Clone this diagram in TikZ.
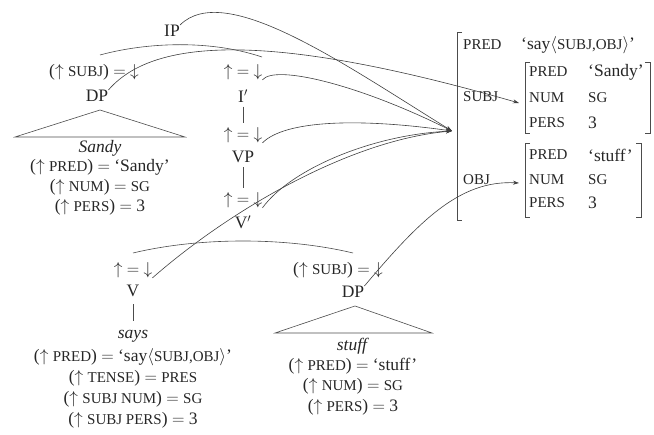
\documentclass[tikz,border=0pt]{standalone}
\usepackage{fontspec}
\setmainfont{Liberation Serif}
\usetikzlibrary{arrows.meta}
\newcommand\fsc[1]{{\fontsize{15}{16}\selectfont #1}}
\newcommand\eqann{$\uparrow$ $=$ $\downarrow$}
\begin{document}
\begin{tikzpicture}[x=1pt,y=-1pt,
  every node/.style={font=\fontsize{17.5}{20}\selectfont, inner sep=0pt, text=black!85},
  fl/.style={anchor=west},
  tree/.style={draw=black!70, line width=0.6pt},
  vline/.style={draw=black!70, line width=0.6pt, shorten <=4pt, shorten >=4pt},
  phi/.style={draw=black!75, line width=0.6pt, -{Stealth[length=6pt,width=4pt]}},
  brk/.style={draw=black!70, line width=0.6pt}]
\useasboundingbox (0,0) rectangle (654,435);
% ---------- c-structure ----------
\node (ip) at (172,31) {IP};
\node (a1) at (94,72) {($\uparrow$ \fsc{SUBJ}) $=$ $\downarrow$};
\node (dp1) at (97,96) {DP};
\node (sandy) at (100,148) {\textit{Sandy}};
\node (s1) at (100,167) {($\uparrow$ \fsc{PRED}) $=$ `Sandy'};
\node (s2) at (100,187) {($\uparrow$ \fsc{NUM}) $=$ \fsc{SG}};
\node (s3) at (100,207) {($\uparrow$ \fsc{PERS}) $=$ 3};
\node (a2) at (243,72) {\eqann};
\node (ibar) at (243,96) {I$'$};
\node (a3) at (243,135) {\eqann};
\node (vp) at (243,157) {VP};
\node (a4) at (243,200) {\eqann};
\node (vbar) at (243,222) {V$'$};
\node (a5) at (133,270) {\eqann};
\node (v) at (133,291) {V};
\node (says) at (133,336) {\textit{says}};
\node (v1) at (133,357) {($\uparrow$ \fsc{PRED}) $=$ `say$\langle$\fsc{SUBJ,OBJ}$\rangle$'};
\node (v2) at (133,378) {($\uparrow$ \fsc{TENSE}) $=$ \fsc{PRES}};
\node (v3) at (133,399) {($\uparrow$ \fsc{SUBJ NUM}) $=$ \fsc{SG}};
\node (v4) at (133,420) {($\uparrow$ \fsc{SUBJ PERS}) $=$ 3};
\node (a6) at (338,270) {($\uparrow$ \fsc{SUBJ}) $=$ $\downarrow$};
\node (dp2) at (353,292) {DP};
\node (stuff) at (353,346) {\textit{stuff}};
\node (o1) at (353,366) {($\uparrow$ \fsc{PRED}) $=$ `stuff'};
\node (o2) at (353,386) {($\uparrow$ \fsc{NUM}) $=$ \fsc{SG}};
\node (o3) at (353,407) {($\uparrow$ \fsc{PERS}) $=$ 3};
% tree lines
\coordinate (ipl) at (100,55);
\coordinate (ipr) at (262,57);
\draw[tree] (ipl) .. controls (140,44) and (205,38) .. (ipr);
\draw[vline] (ibar) -- (a3);
\draw[vline] (vp) -- (a4);
\coordinate (vbl) at (133,253);
\coordinate (vbr) at (353,253);
\draw[tree] (vbl) .. controls (200,237) and (286,237) .. (vbr);
\draw[vline, shorten <=7pt, shorten >=9pt] (v) -- (says);
\draw[tree] (100,110) -- (15,137) -- (185,137) -- cycle;
\draw[tree] (355,306) -- (275,333) -- (432,333) -- cycle;
% ---------- f-structure ----------
\draw[brk] (462,32) -- (457,32) -- (457,220) -- (462,220);
\node[fl] (fpred) at (463,45) {\fsc{PRED}};
\node[fl] (fpv) at (521,45) {`say$\langle$\fsc{SUBJ,OBJ}$\rangle$'};
\node[fl] (fsubj) at (463,97) {\fsc{SUBJ}};
\node[fl] (fobj) at (463,180) {\fsc{OBJ}};
\draw[brk] (530,62) -- (525,62) -- (525,133) -- (530,133);
\draw[brk] (645,62) -- (650,62) -- (650,133) -- (645,133);
\node[fl] (sp) at (529,72) {\fsc{PRED}};
\node[fl] (spv) at (588,72) {`Sandy'};
\node[fl] (sn) at (529,98) {\fsc{NUM}};
\node[fl] (snv) at (588,98) {\fsc{SG}};
\node[fl] (spe) at (529,123) {\fsc{PERS}};
\node[fl] (spev) at (588,123) {3};
\draw[brk] (530,143) -- (525,143) -- (525,217) -- (530,217);
\draw[brk] (636,143) -- (641,143) -- (641,217) -- (636,217);
\node[fl] (op) at (529,155) {\fsc{PRED}};
\node[fl] (opv) at (588,155) {`stuff'};
\node[fl] (on) at (529,180) {\fsc{NUM}};
\node[fl] (onv) at (588,180) {\fsc{SG}};
\node[fl] (ope) at (529,203) {\fsc{PERS}};
\node[fl] (opev) at (588,203) {3};
% ---------- phi arrows ----------
\coordinate (fout) at (452,131);
\coordinate (fsub) at (519,103);
\coordinate (fob) at (519,183);
\draw[phi] (ip.north east) .. controls (225,-20) and (345,65) .. (fout);
\draw[phi] (dp1.north east) .. controls (160,30) and (300,40) .. (fsub);
\draw[phi] (a2.south east) .. controls (275,64) and (360,85) .. (fout);
\draw[phi] (a3.south east) .. controls (285,120) and (360,118) .. (fout);
\draw[phi] (a4.south east) .. controls (290,170) and (370,135) .. (fout);
\draw[phi] (a5.south east) .. controls (230,210) and (350,140) .. (fout);
\draw[phi] (dp2.north east) .. controls (420,220) and (460,180) .. (fob);
\end{tikzpicture}
\end{document}
